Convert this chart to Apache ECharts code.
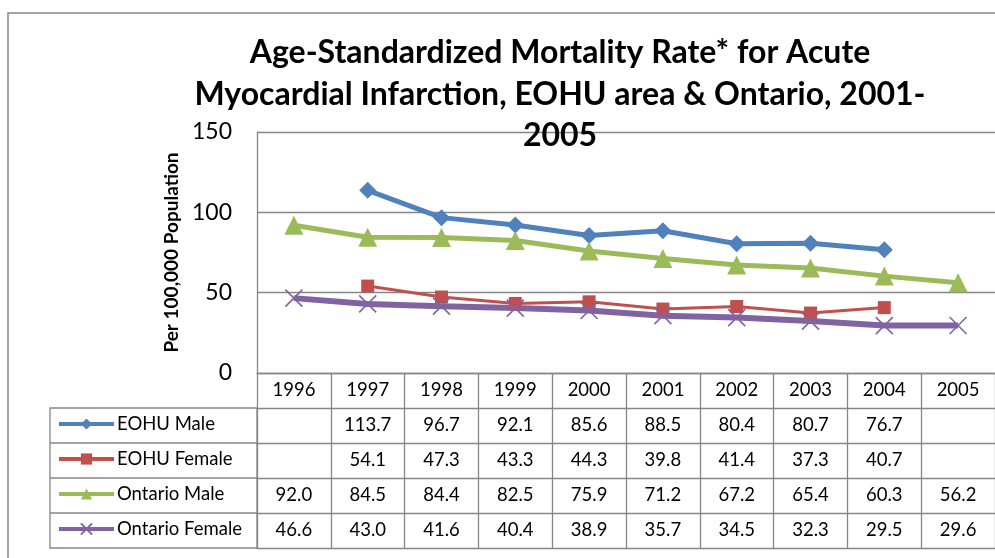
<!DOCTYPE html>
<html>
<head>
<meta charset="utf-8">
<script src="https://cdn.jsdelivr.net/npm/echarts@6/dist/echarts.min.js"></script>
<style>
html,body{margin:0;padding:0;background:#fff;}
#chart{width:995px;height:558px;}
</style>
</head>
<body>
<div id="chart"></div>
<script>
const years = ['1996','1997','1998','1999','2000','2001','2002','2003','2004','2005'];
const seriesNames = ['EOHU Male','EOHU Female','Ontario Male','Ontario Female'];
const eohuMale = [null,113.7,96.7,92.1,85.6,88.5,80.4,80.7,76.7,null];
const eohuFemale = [null,54.1,47.3,43.3,44.3,39.8,41.4,37.3,40.7,null];
const ontarioMale = [92.0,84.5,84.4,82.5,75.9,71.2,67.2,65.4,60.3,56.2];
const ontarioFemale = [46.6,43.0,41.6,40.4,38.9,35.7,34.5,32.3,29.5,29.6];
const yTicks = [0,50,100,150];
const titleText = 'Age-Standardized Mortality Rate* for Acute\nMyocardial Infarction, EOHU area & Ontario, 2001-\n2005';
const yTitle = 'Per 100,000 Population';

const FONT = 'Lato, "Open Sans", sans-serif';
const GRID = '#868686';
const rows = [eohuMale, eohuFemale, ontarioMale, ontarioFemale];
const colors = ['#4F81BD','#C0504D','#9BBB59','#8064A2'];
const rowH = 35;

const chart = echarts.init(document.getElementById('chart'), null, {renderer:'canvas'});

function tableAxis(k){
  return {
    type:'category', data: years, position:'bottom', offset: k*rowH, gridIndex:0,
    axisLine:{show:true, onZero:false, lineStyle:{color:GRID, width:1.3}},
    axisTick:{show: k<5, length:rowH, interval:0, lineStyle:{color:GRID, width:1.3}},
    axisLabel:{show: k<5, interval:0, margin:8, fontSize:18.5, fontFamily:FONT, color:'#000',
      formatter: function(v, i){
        if (k===0) return v;
        const val = rows[k-1][i];
        return val==null ? '' : val.toFixed(1);
      }},
    splitLine:{show:false}
  };
}

const xAxes = [];
for (let k=0;k<6;k++) xAxes.push(tableAxis(k));

const symbols = ['diamond','rect','triangle','path://M0,0L10,10M10,0L0,10'];
const symSizes = [17, 13, 19, 17];
const widths = [5, 3, 5, 6];

const series = rows.map((r, i) => ({
  name: seriesNames[i], type:'line', data:r, xAxisIndex:0, yAxisIndex:0,
  symbol: symbols[i], symbolSize: symSizes[i], showSymbol:true,
  color: colors[i],
  lineStyle:{color:colors[i], width:widths[i]},
  itemStyle: i===3 ? {color:colors[i], borderColor:colors[i], borderWidth:1.6} : {color:colors[i]},
  emphasis:{disabled:true},
  animation:false
}));

const option = {
  animation:false,
  backgroundColor:'#fff',
  title:{
    text: titleText, left: 555, top: 27, textAlign:'center',
    textStyle:{fontFamily:FONT, fontWeight:'bold', fontSize:32, lineHeight:41.5, color:'#000'}
  },
  legend:{
    orient:'vertical', left:57, top:414, padding:0, itemWidth:55, itemHeight:14, itemGap:15,
    data: seriesNames, selectedMode:false,
    lineStyle:{width:4},
    textStyle:{fontFamily:FONT, fontSize:18.5, lineHeight:20, color:'#000', padding:[0,0,0,-2]}
  },
  grid:{left:257, top:132, width:750, height:241, containLabel:false},
  xAxis: xAxes,
  yAxis:{
    type:'value', min:yTicks[0], max:yTicks[yTicks.length-1], interval:50,
    name: yTitle, nameLocation:'middle', nameGap:76, nameRotate:90,
    nameTextStyle:{fontFamily:FONT, fontWeight:'bold', fontSize:19, color:'#000'},
    axisLine:{show:true, lineStyle:{color:GRID, width:1.3}},
    axisTick:{show:false},
    axisLabel:{fontFamily:FONT, fontSize:23, color:'#000', margin:25},
    splitLine:{show:true, lineStyle:{color:GRID, width:1.3}}
  },
  graphic:[
    {type:'rect', shape:{x:8, y:13, width:1200, height:800}, style:{fill:null, stroke:GRID, lineWidth:1.5}, silent:true, z:-10},
    {type:'rect', shape:{x:50, y:373+rowH, width:207, height:4*rowH}, style:{fill:null, stroke:GRID, lineWidth:1.3}, silent:true},
    {type:'line', shape:{x1:50, y1:373+2*rowH, x2:257, y2:373+2*rowH}, style:{stroke:GRID, lineWidth:1.3}, silent:true},
    {type:'line', shape:{x1:50, y1:373+3*rowH, x2:257, y2:373+3*rowH}, style:{stroke:GRID, lineWidth:1.3}, silent:true},
    {type:'line', shape:{x1:50, y1:373+4*rowH, x2:257, y2:373+4*rowH}, style:{stroke:GRID, lineWidth:1.3}, silent:true}
  ],
  series: series
};
chart.setOption(option);
</script>
</body>
</html>
